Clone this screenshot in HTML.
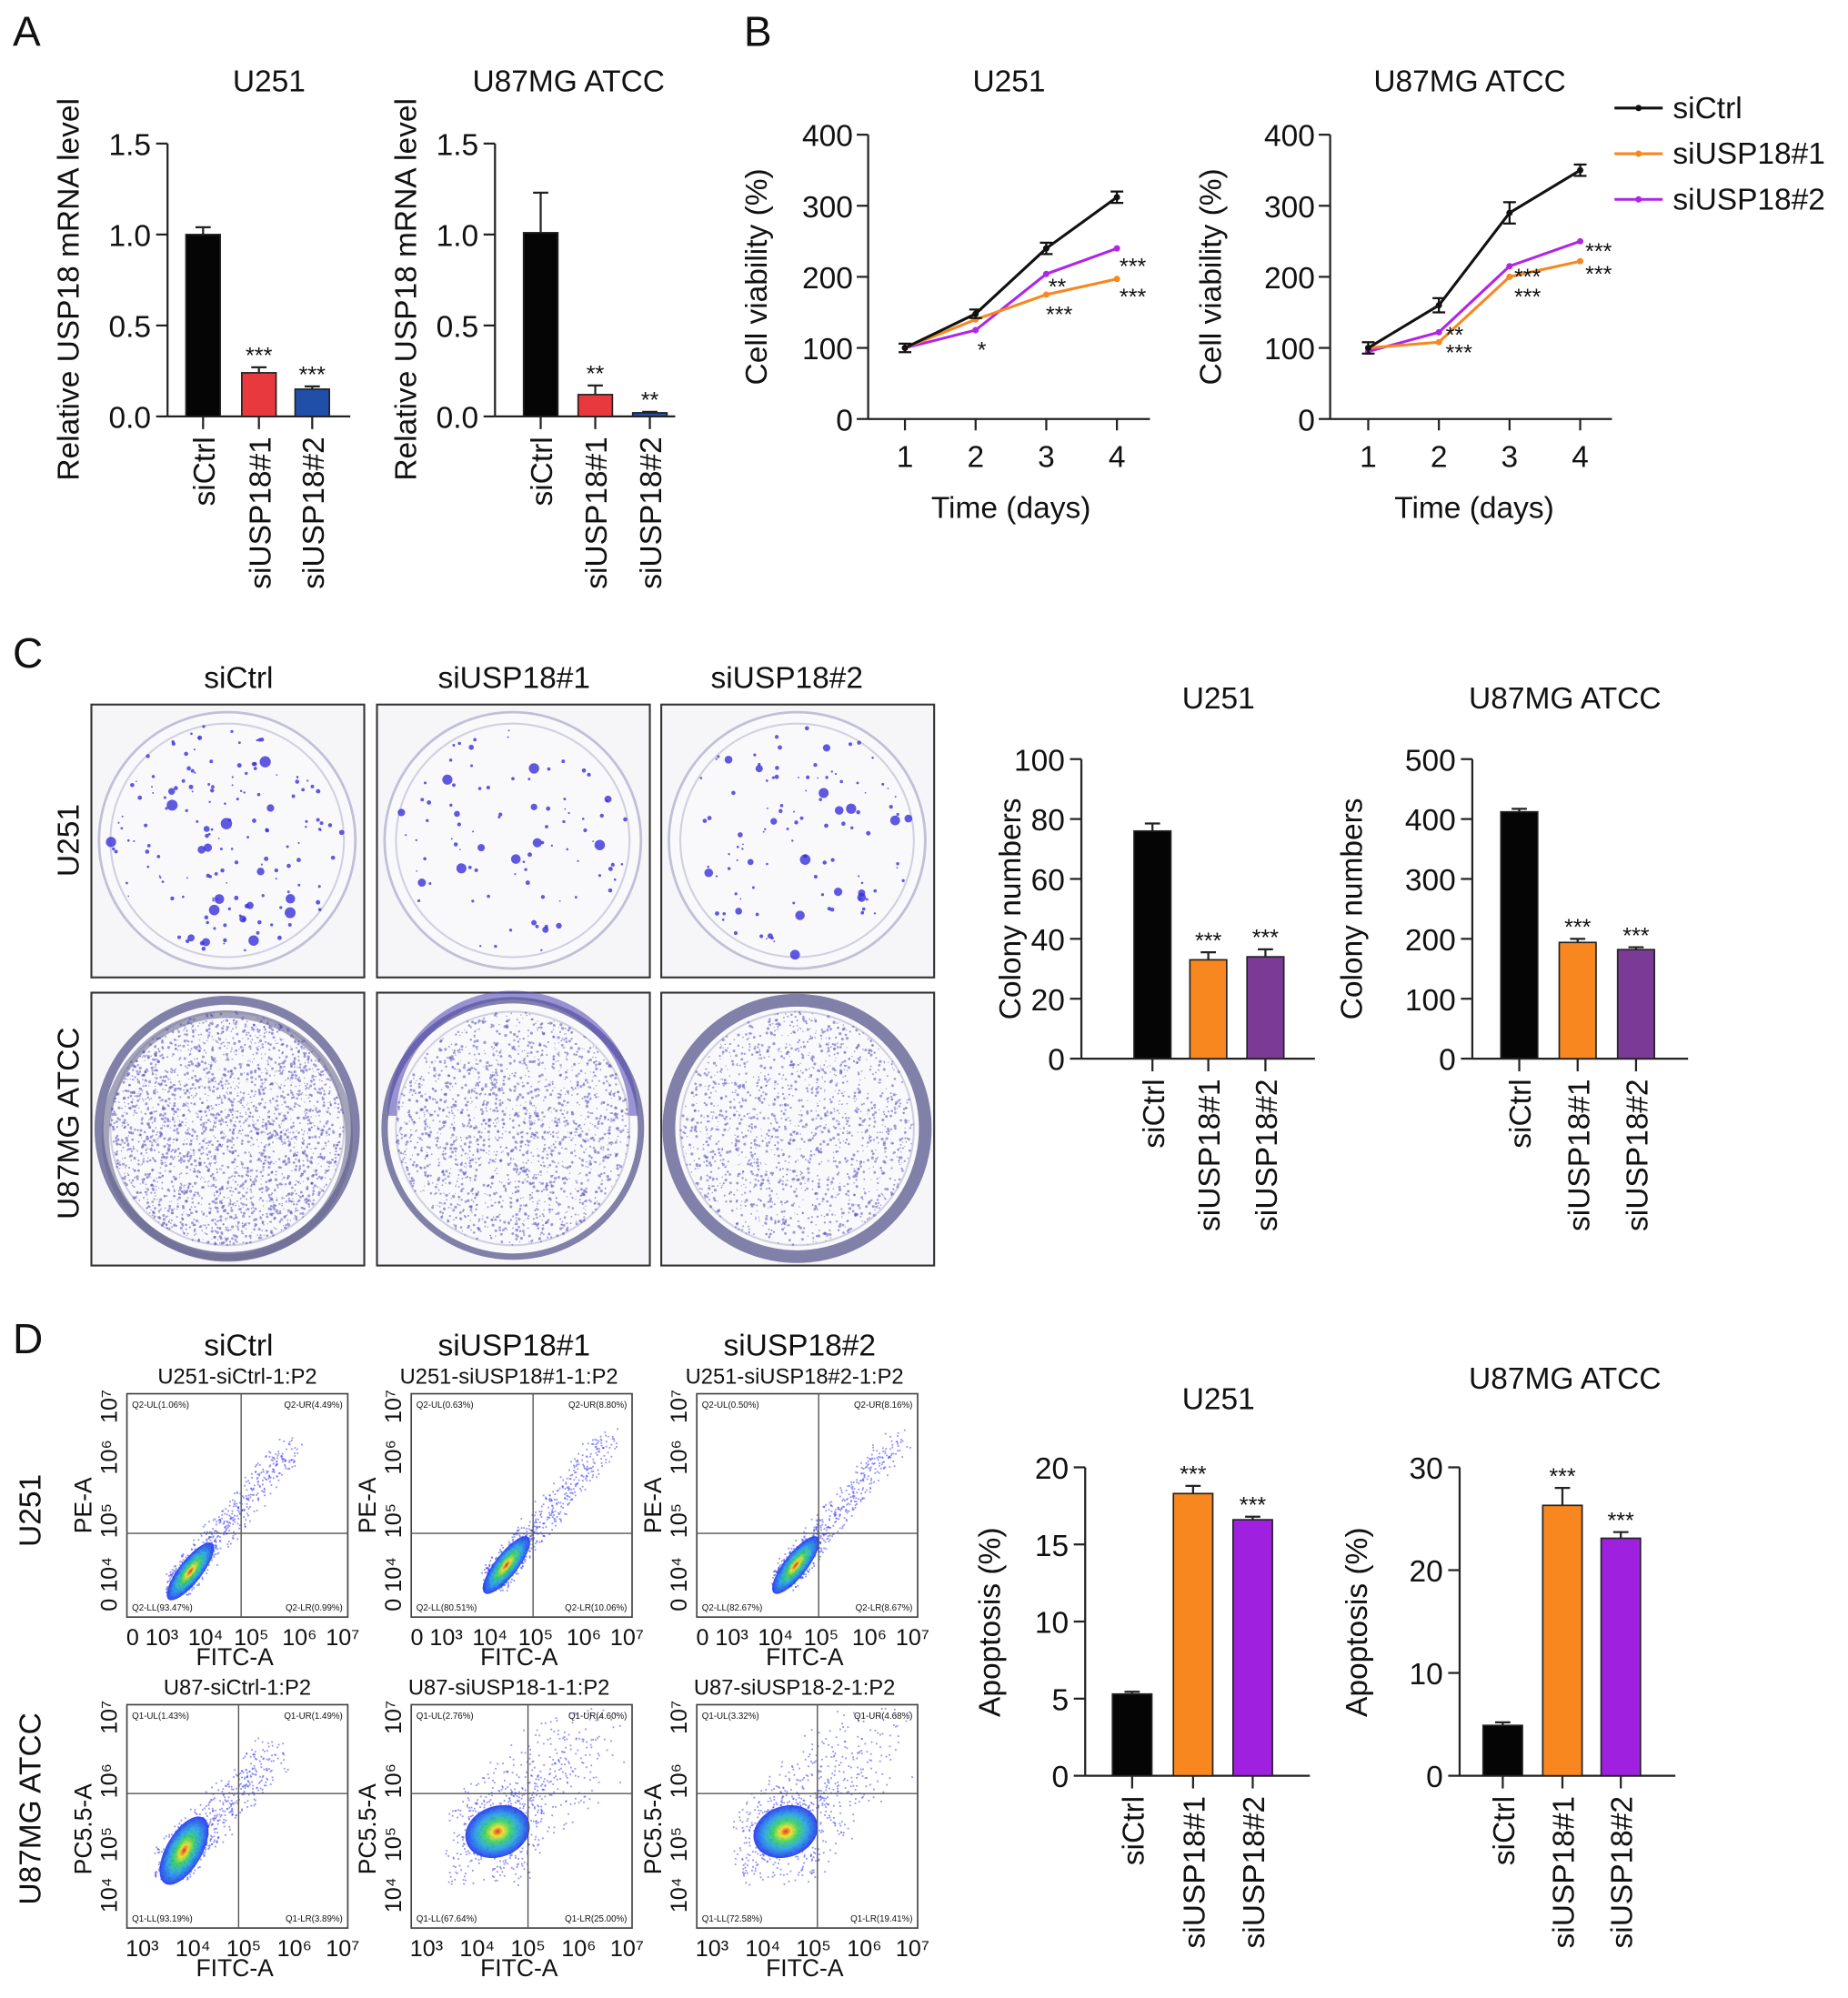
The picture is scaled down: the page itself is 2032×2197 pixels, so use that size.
<!DOCTYPE html>
<html><head><meta charset="utf-8">
<style>
html,body{margin:0;padding:0;background:#fff;}
svg{display:block;font-family:"Liberation Sans",Arial,sans-serif;}
</style></head>
<body>
<svg id="fig" width="2032" height="2197" viewBox="0 0 1456 1574" xmlns="http://www.w3.org/2000/svg">
<rect width="1456" height="1574" fill="#fff"/>
<g id="root"></g>
</svg>
<script>
// ---------- DATA ----------
const barCats = ['siCtrl','siUSP18#1','siUSP18#2'];
const mrnaU251 = [1.0, 0.24, 0.15];
const mrnaU251Err = [0.04, 0.03, 0.015];
const mrnaU251Stars = ['', '***', '***'];
const mrnaU87 = [1.01, 0.12, 0.02];
const mrnaU87Err = [0.22, 0.05, 0.005];
const mrnaU87Stars = ['', '**', '**'];
const mrnaTicks = [0, 0.5, 1.0, 1.5];
const mrnaTickLabels = ['0.0','0.5','1.0','1.5'];

const days = [1,2,3,4];
const viabTicks = [0,100,200,300,400];
const lineNames = ['siCtrl','siUSP18#1','siUSP18#2'];
const viabU251Ctrl = [100,148,240,312];
const viabU251Si1 = [100,140,175,197];
const viabU251Si2 = [100,125,204,240];
const viabU251CtrlErr = [6,6,8,8];
const viabU87Ctrl = [100,160,290,350];
const viabU87Si1 = [100,108,200,222];
const viabU87Si2 = [95,122,215,250];
const viabU87CtrlErr = [8,10,15,8];

const colonyU251 = [76, 33, 34];
const colonyU251Err = [2.5, 2.5, 2.5];
const colonyU251Ticks = [0,20,40,60,80,100];
const colonyU87 = [412, 194, 182];
const colonyU87Err = [5, 6, 4];
const colonyU87Ticks = [0,100,200,300,400,500];
const colonyStars = ['', '***', '***'];

const apopU251 = [5.3, 18.3, 16.6];
const apopU251Err = [0.15, 0.5, 0.2];
const apopU251Ticks = [0,5,10,15,20];
const apopU87 = [4.9, 26.3, 23.1];
const apopU87Err = [0.3, 1.7, 0.6];
const apopU87Ticks = [0,10,20,30];
const apopStars = ['', '***', '***'];

// ---------- HELPERS ----------
const NS = 'http://www.w3.org/2000/svg';
const root = document.getElementById('root');
function mk(tag, attrs, parent){
  const e = document.createElementNS(NS, tag);
  for (const k in attrs) e.setAttribute(k, attrs[k]);
  (parent||root).appendChild(e);
  return e;
}
function txt(s, x, y, size, anchor, parent, rot){
  const t = mk('text', {x:x, y:y, 'font-size':size, 'text-anchor':anchor||'middle', fill:'#111'}, parent);
  if (rot) t.setAttribute('transform', 'rotate(' + rot + ' ' + x + ' ' + y + ')');
  t.textContent = s;
  return t;
}
function label(s, x, y, size){
  const t = txt(s, x, y, size||33, 'start');
  
  
}
label('A', 10, 36); label('B', 586, 36); label('C', 10, 526); label('D', 10, 1066);

const FS = 24;
function barChart(o){
  const g = mk('g', {});
  
  
  const ys = v => o.y0 - (v - o.ticks[0]) / (o.ticks[o.ticks.length-1] - o.ticks[0]) * (o.y0 - o.yTop);
  const t = txt(o.title, o.titleX, o.titleY, FS, 'middle', g);
  
  
  const yt = txt(o.ytitle, o.ytX, o.ytY, FS, 'middle', g, -90);
  
  
  const ax = mk('line', {x1:o.ax, y1:ys(o.ticks[o.ticks.length-1]), x2:o.ax, y2:o.y0, stroke:'#222', 'stroke-width':1.6}, g);
  
  
  const xa = mk('line', {x1:o.ax, y1:o.y0, x2:o.axEnd, y2:o.y0, stroke:'#222', 'stroke-width':1.6}, g);
  
  
  o.ticks.forEach((v,i) => {
    mk('line', {x1:o.ax-9, y1:ys(v), x2:o.ax, y2:ys(v), stroke:'#222', 'stroke-width':1.6}, g);
    const tl = txt(o.tickLabels ? o.tickLabels[i] : String(v), o.ax-13, ys(v)+9, FS, 'end', g);
    
    
  });
  o.vals.forEach((v,i) => {
    const cx = o.cx[i];
    const top = ys(o.vals[i] + o.err[i]);
    mk('line', {x1:cx, y1:top, x2:cx, y2:ys(v), stroke:'#222', 'stroke-width':1.6}, g);
    mk('line', {x1:cx-6, y1:top, x2:cx+6, y2:top, stroke:'#222', 'stroke-width':1.6}, g);
    const r = mk('rect', {x:cx-o.bw/2, y:ys(v), width:o.bw, height:o.y0-ys(v), fill:o.colors[i], stroke:'#222', 'stroke-width':1.2}, g);
    
    
    if (o.stars[i]) {
      const s = txt(o.stars[i], cx, top-3, 18, 'middle', g);
      
      
    }
    mk('line', {x1:cx, y1:o.y0, x2:cx, y2:o.y0+10, stroke:'#222', 'stroke-width':1.6}, g);
    const xl = txt(barCats[i], cx+9, o.y0+16, FS, 'end', g, -90);
    
    
  });
}

// Panel A
barChart({name:'mrna-u251-chart', title:'U251', titleX:212, titleY:72, ytitle:'Relative USP18 mRNA level', ytX:62, ytY:228,
  ax:132, axEnd:276, y0:328, yTop:113, ticks:mrnaTicks, tickLabels:mrnaTickLabels, vals:mrnaU251, err:mrnaU251Err, stars:mrnaU251Stars,
  cx:[160,204,246], bw:27, colors:['#050505','#e8393f','#1f4fa8']});
barChart({name:'mrna-u87-chart', title:'U87MG ATCC', titleX:448, titleY:72, ytitle:'Relative USP18 mRNA level', ytX:328, ytY:228,
  ax:390, axEnd:532, y0:328, yTop:113, ticks:mrnaTicks, tickLabels:mrnaTickLabels, vals:mrnaU87, err:mrnaU87Err, stars:mrnaU87Stars,
  cx:[426,469,512], bw:27, colors:['#050505','#e8393f','#1f4fa8']});

// Panel B line charts
function lineChart(o){
  const g = mk('g', {});
  
  
  const ys = v => o.y0 - v/400*(o.y0-o.yTop);
  const xs = d => o.x1 + (d-1)*(o.x4-o.x1)/3;
  const t = txt(o.title, o.titleX, 72, FS, 'middle', g);
  
  
  const yt = txt('Cell viability (%)', o.ytX, 218, FS, 'middle', g, -90);
  
  
  const xt = txt('Time (days)', (o.x1+o.x4)/2, 408, FS, 'middle', g);
  
  
  mk('line', {x1:o.ax, y1:o.yTop, x2:o.ax, y2:o.y0, stroke:'#222', 'stroke-width':1.6}, g);
  mk('line', {x1:o.ax, y1:o.y0, x2:o.axEnd, y2:o.y0, stroke:'#222', 'stroke-width':1.6}, g);
  viabTicks.forEach(v => {
    mk('line', {x1:o.ax-9, y1:ys(v), x2:o.ax, y2:ys(v), stroke:'#222', 'stroke-width':1.6}, g);
    const tl = txt(String(v), o.ax-12, ys(v)+9, FS, 'end', g);
    
    
  });
  days.forEach(d => {
    mk('line', {x1:xs(d), y1:o.y0, x2:xs(d), y2:o.y0+9, stroke:'#222', 'stroke-width':1.6}, g);
    const tl = txt(String(d), xs(d), o.y0+38, FS, 'middle', g);
    
    
  });
  const cols = ['#111','#f7871e','#b025e6'];
  [o.si2, o.si1, o.ctrl].forEach((ser, k) => {
    const idx = 2-k;
    const p = mk('polyline', {points: ser.map((v,i)=>xs(days[i])+','+ys(v)).join(' '), fill:'none', stroke:cols[idx], 'stroke-width':2.2}, g);
    
    
    ser.forEach((v,i) => {
      const c = mk('circle', {cx:xs(days[i]), cy:ys(v), r:2.5, fill:cols[idx]}, g);
      
      
      if (idx===0) {
        const e = o.ctrlErr[i];
        mk('line', {x1:xs(days[i]), y1:ys(v+e), x2:xs(days[i]), y2:ys(v-e), stroke:'#111', 'stroke-width':1.6}, g);
        mk('line', {x1:xs(days[i])-5, y1:ys(v+e), x2:xs(days[i])+5, y2:ys(v+e), stroke:'#111', 'stroke-width':1.6}, g);
        mk('line', {x1:xs(days[i])-5, y1:ys(v-e), x2:xs(days[i])+5, y2:ys(v-e), stroke:'#111', 'stroke-width':1.6}, g);
      }
    });
  });
  o.stars.forEach(s => {
    const st = txt(s[0], s[1], s[2], 18, 'start', g);
    
    
  });
}
lineChart({name:'viability-u251-chart', title:'U251', titleX:795, ytX:604, ax:684, axEnd:906, y0:330, yTop:106, x1:713, x4:880,
  ctrl:viabU251Ctrl, si1:viabU251Si1, si2:viabU251Si2, ctrlErr:viabU251CtrlErr,
  stars:[['*',770,282],['**',826,232],['***',824,254],['***',882,216],['***',882,240]]});
lineChart({name:'viability-u87-chart', title:'U87MG ATCC', titleX:1158, ytX:962, ax:1048, axEnd:1270, y0:330, yTop:106, x1:1078, x4:1245,
  ctrl:viabU87Ctrl, si1:viabU87Si1, si2:viabU87Si2, ctrlErr:viabU87CtrlErr,
  stars:[['**',1139,270],['***',1139,284],['***',1193,224],['***',1193,240],['***',1249,204],['***',1249,222]]});
// legend
const legCols = ['#111','#f7871e','#b025e6'];
lineNames.forEach((n,i) => {
  const y = 85 + i*36;
  const lg = mk('g', {});
  
  
  mk('line', {x1:1272, y1:y, x2:1310, y2:y, stroke:legCols[i], 'stroke-width':2.2}, lg);
  mk('circle', {cx:1291, cy:y, r:2.5, fill:legCols[i]}, lg);
  txt(n, 1318, y+8, FS, 'start', lg);
});

// Panel C photos
let seed = 12345;
function rnd(){ seed = (seed*1103515245 + 12345) % 2147483648; return seed/2147483648; }
['siCtrl','siUSP18#1','siUSP18#2'].forEach((n,i) => {
  const t = txt(n, [188,405,620][i], 542, FS, 'middle');
  
  
});
const rl1 = txt('U251', 62, 662, FS, 'middle', null, -90);


const rl2 = txt('U87MG ATCC', 62, 885, FS, 'middle', null, -90);


const plateX = [72,297,521], plateY = [555,782];
const plateDots = [[160,90,110],[2600,1900,1600]];
plateY.forEach((py,r) => plateX.forEach((px,c) => {
  const g = mk('g', {});
  
  
  mk('rect', {x:px, y:py, width:215, height:215, fill:'#f6f6f9', stroke:'#333', 'stroke-width':1.5}, g);
  const cx = px+107, cy = py+107;
  mk('circle', {cx:cx, cy:cy, r:101, fill:'#f9f9fc', stroke: r? '#8080a8':'#c0c0d6', 'stroke-width': r? (c==2?10:(c==1?5:7)):2}, g);
  mk('circle', {cx:cx, cy:cy, r:92, fill:'none', stroke:'#d0d0e0', 'stroke-width':1.5}, g);
  if (r && c==0) mk('circle', {cx:cx, cy:cy+6, r:96, fill:'none', stroke:'#6a6a90', 'stroke-width':6, opacity:0.6}, g);
  if (r && c==1) mk('path', {d:'M'+(cx-95)+','+(cy-10)+' A95,95 0 0 1 '+(cx+95)+','+(cy-10), fill:'none', stroke:'#5a50b8', 'stroke-width':7, opacity:0.6}, g);
  const nd = plateDots[r][c];
  for (let k=0;k<nd;k++){
    const a = rnd()*6.283, rr = Math.sqrt(rnd())*92;
    const big = rnd();
    const sz = r ? 0.4+rnd()*0.8 : (big>0.85 ? 2+rnd()*2.5 : 0.6+rnd()*1.2);
    mk('circle', {cx:cx+Math.cos(a)*rr, cy:cy+Math.sin(a)*rr, r:sz, fill: r?'#5550b8':'#3a30d8', opacity: r?0.55:0.8}, g);
  }
}));

barChart({name:'colony-u251-chart', title:'U251', titleX:960, titleY:558, ytitle:'Colony numbers', ytX:804, ytY:716,
  ax:852, axEnd:1036, y0:834, yTop:598, ticks:colonyU251Ticks, vals:colonyU251, err:colonyU251Err, stars:colonyStars,
  cx:[908,952,997], bw:29, colors:['#050505','#f7871e','#7b3a96']});
barChart({name:'colony-u87-chart', title:'U87MG ATCC', titleX:1233, titleY:558, ytitle:'Colony numbers', ytX:1073, ytY:716,
  ax:1160, axEnd:1330, y0:834, yTop:598, ticks:colonyU87Ticks, vals:colonyU87, err:colonyU87Err, stars:colonyStars,
  cx:[1197,1243,1289], bw:29, colors:['#050505','#f7871e','#7b3a96']});

// Panel D flow plots
const defs = mk('defs', {});
const grad = mk('radialGradient', {id:'dens'}, defs);
[['0','#e02010'],['0.18','#f0e020'],['0.4','#30d060'],['0.65','#20a0e0'],['1','#2030f0']].forEach(s => mk('stop', {offset:s[0], 'stop-color':s[1]}, grad));
['siCtrl','siUSP18#1','siUSP18#2'].forEach((n,i) => {
  const t = txt(n, [188,405,630][i], 1068, FS, 'middle');
  
  
});
const rl3 = txt('U251', 32, 1190, FS, 'middle', null, -90);


const rl4 = txt('U87MG ATCC', 32, 1425, FS, 'middle', null, -90);


const flowTitles = [['U251-siCtrl-1:P2','U251-siUSP18#1-1:P2','U251-siUSP18#2-1:P2'],['U87-siCtrl-1:P2','U87-siUSP18-1-1:P2','U87-siUSP18-2-1:P2']];
const flowQ = [[['Q2-UL(1.06%)','Q2-UR(4.49%)','Q2-LL(93.47%)','Q2-LR(0.99%)'],['Q2-UL(0.63%)','Q2-UR(8.80%)','Q2-LL(80.51%)','Q2-LR(10.06%)'],['Q2-UL(0.50%)','Q2-UR(8.16%)','Q2-LL(82.67%)','Q2-LR(8.67%)']],
 [['Q1-UL(1.43%)','Q1-UR(1.49%)','Q1-LL(93.19%)','Q1-LR(3.89%)'],['Q1-UL(2.76%)','Q1-UR(4.60%)','Q1-LL(67.64%)','Q1-LR(25.00%)'],['Q1-UL(3.32%)','Q1-UR(4.68%)','Q1-LL(72.58%)','Q1-LR(19.41%)']]];
const fx = [100,324,549], fy = [1098,1343], fw = 174, fh = 176;
fy.forEach((py,r) => fx.forEach((px,c) => {
  const g = mk('g', {});
  
  
  txt(flowTitles[r][c], px+fw/2+ (c?-10:0), py-8, 17, 'middle', g);
  mk('rect', {x:px, y:py, width:fw, height:fh, fill:'#fff', stroke:'#444', 'stroke-width':1.2}, g);
  const gx = r ? px+ [88,92,95][c] : px+[90,96,96][c];
  const gy = r ? py+70 : py+110;
  const ccx = r ? px+[45,68,70][c] : px+[50,75,78][c];
  const ccy = r ? py+[115,100,100][c] : py+[140,135,135][c];
  for (let k=0;k<700;k++){
    const t = rnd(), s = (rnd()-0.5);
    const spread = r ? (c?32:14) : 10;
    const x = ccx + t*t*90*(r?0.9:1) + s*spread*2 - 10;
    const y = ccy - t*t*110*(r?0.8:1) + (rnd()-0.5)*spread*2 + 10;
    if (x>px+2 && x<px+fw-2 && y>py+2 && y<py+fh-2)
      mk('rect', {x:x, y:y, width:1.3, height:1.3, fill:'#3a3af0', opacity:0.55}, g);
  }
  mk('ellipse', {cx:ccx, cy:ccy, rx: r?(c?26:14):9, ry: r?(c?20:30):28, fill:'url(#dens)', opacity:0.9, transform:'rotate(' + (r?(c?-20:30):38) + ' ' + ccx + ' ' + ccy + ')'}, g);
  mk('line', {x1:gx, y1:py, x2:gx, y2:py+fh, stroke:'#555', 'stroke-width':1}, g);
  mk('line', {x1:px, y1:gy, x2:px+fw, y2:gy, stroke:'#555', 'stroke-width':1}, g);
  const q = flowQ[r][c];
  txt(q[0], px+4, py+11, 7, 'start', g); txt(q[1], px+fw-4, py+11, 7, 'end', g);
  txt(q[2], px+4, py+fh-5, 7, 'start', g); txt(q[3], px+fw-4, py+fh-5, 7, 'end', g);
  const xl = r ? ['10³','10⁴','10⁵','10⁶','10⁷'] : ['0 10³','10⁴','10⁵','10⁶','10⁷'];
  const xp = r ? [12,52,92,132,170] : [20,62,98,136,170];
  xl.forEach((s,k) => txt(s, px+xp[k], py+fh+22, 18, 'middle', g));
  txt('FITC-A', px+fw/2-2, py+fh+38, 19, 'middle', g);
  const yl = r ? ['10⁴','10⁵','10⁶','10⁷'] : ['0 10⁴','10⁵','10⁶','10⁷'];
  const yp = r ? [150,110,60,10] : [150,100,50,10];
  yl.forEach((s,k) => txt(s, px-8, py+yp[k], 18, 'middle', g, -90));
  txt(r ? 'PC5.5-A' : 'PE-A', px-28, py+fh/2+ (r?10:0), 19, 'middle', g, -90);
}));

barChart({name:'apoptosis-u251-chart', title:'U251', titleX:960, titleY:1110, ytitle:'Apoptosis (%)', ytX:788, ytY:1278,
  ax:855, axEnd:1032, y0:1399, yTop:1156, ticks:apopU251Ticks, vals:apopU251, err:apopU251Err, stars:apopStars,
  cx:[892,940,987], bw:31, colors:['#050505','#f7871e','#a020e0']});
barChart({name:'apoptosis-u87-chart', title:'U87MG ATCC', titleX:1233, titleY:1094, ytitle:'Apoptosis (%)', ytX:1077, ytY:1278,
  ax:1150, axEnd:1320, y0:1399, yTop:1156, ticks:apopU87Ticks, vals:apopU87, err:apopU87Err, stars:apopStars,
  cx:[1184,1231,1277], bw:31, colors:['#050505','#f7871e','#a020e0']});
</script>
</body></html>
